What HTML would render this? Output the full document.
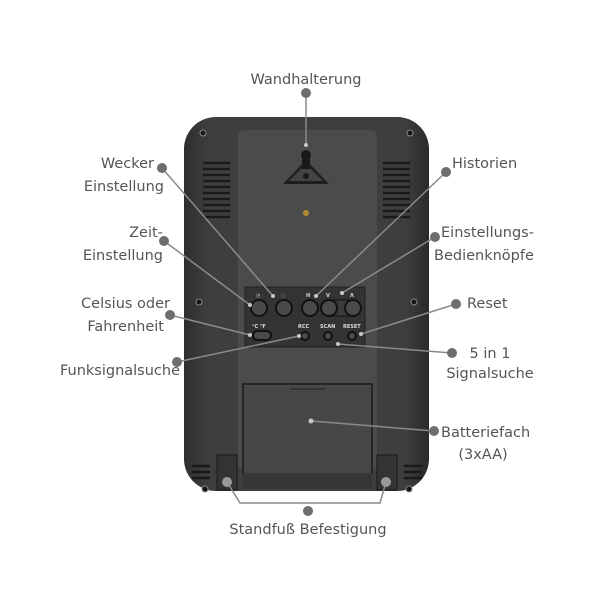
<!DOCTYPE html>
<html><head><meta charset="utf-8"><style>
html,body{margin:0;padding:0;background:#fff;width:600px;height:600px;overflow:hidden}
svg{display:block}
text{font-family:"DejaVu Sans","Liberation Sans",sans-serif;fill:#555;font-size:14.5px}
.s{font-size:5px;fill:#ddd;font-weight:bold}
</style></head><body>
<svg width="600" height="600" viewBox="0 0 600 600" xmlns="http://www.w3.org/2000/svg">
<defs>
<linearGradient id="g" x1="0" x2="1"><stop offset="0" stop-color="#2e2e2e"/><stop offset="0.1" stop-color="#3e3e3e"/><stop offset="0.9" stop-color="#3e3e3e"/><stop offset="1" stop-color="#2a2a2a"/></linearGradient>
</defs>
<rect x="184" y="117" width="245" height="374" rx="32" fill="url(#g)"/>
<rect x="238" y="130" width="139" height="340" rx="6" fill="#4b4b4b"/>
<g stroke="#1a1a1a" stroke-width="2.5">
<line x1="203" y1="163" x2="230" y2="163"/><line x1="203" y1="169" x2="230" y2="169"/><line x1="203" y1="175" x2="230" y2="175"/><line x1="203" y1="181" x2="230" y2="181"/><line x1="203" y1="187" x2="230" y2="187"/><line x1="203" y1="193" x2="230" y2="193"/><line x1="203" y1="199" x2="230" y2="199"/><line x1="203" y1="205" x2="230" y2="205"/><line x1="203" y1="211" x2="230" y2="211"/><line x1="203" y1="217" x2="230" y2="217"/>
<line x1="383" y1="163" x2="410" y2="163"/><line x1="383" y1="169" x2="410" y2="169"/><line x1="383" y1="175" x2="410" y2="175"/><line x1="383" y1="181" x2="410" y2="181"/><line x1="383" y1="187" x2="410" y2="187"/><line x1="383" y1="193" x2="410" y2="193"/><line x1="383" y1="199" x2="410" y2="199"/><line x1="383" y1="205" x2="410" y2="205"/><line x1="383" y1="211" x2="410" y2="211"/><line x1="383" y1="217" x2="410" y2="217"/>
<line x1="192" y1="466" x2="210" y2="466"/><line x1="192" y1="472" x2="210" y2="472"/><line x1="192" y1="478" x2="210" y2="478"/>
<line x1="404" y1="466" x2="422" y2="466"/><line x1="404" y1="472" x2="422" y2="472"/><line x1="404" y1="478" x2="422" y2="478"/>
</g>
<g fill="#161616" stroke="#888" stroke-width="1">
<circle cx="203" cy="133" r="3"/><circle cx="410" cy="133" r="3"/><circle cx="199" cy="302" r="3"/><circle cx="414" cy="302" r="3"/><circle cx="203" cy="489" r="0"/><circle cx="206" cy="490" r="0"/>
<circle cx="205" cy="490" r="0"/>
</g>
<g fill="#161616" stroke="#888" stroke-width="1"><circle cx="205" cy="489" r="3"/><circle cx="409" cy="489" r="3"/></g>
<path d="M283 184 L306 160 L329 184 Z" fill="#1e1e1e"/>
<path d="M289 181 L306 164 L323 181 Z" fill="#444"/>
<circle cx="306" cy="155" r="5" fill="#1a1a1a"/>
<rect x="302" y="155" width="8" height="14" fill="#1a1a1a"/>
<circle cx="306" cy="176" r="3" fill="#1a1a1a"/>
<circle cx="306" cy="213" r="3" fill="#b08a30"/>
<rect x="245" y="287" width="120" height="60" fill="#333" stroke="#222"/>
<g fill="#4a4a4a" stroke="#111" stroke-width="2">
<circle cx="259" cy="308" r="8"/><circle cx="284" cy="308" r="8"/><circle cx="310" cy="308" r="8"/>
<rect x="329" y="300" width="24" height="16" fill="#3a3a3a" stroke="#111" stroke-width="1"/>
<circle cx="329" cy="308" r="8"/><circle cx="353" cy="308" r="8"/>
<circle cx="305" cy="336" r="4"/><circle cx="328" cy="336" r="4"/><circle cx="352" cy="336" r="4"/>
<rect x="253" y="331" width="18" height="9" rx="4.5"/>
</g>
<text class="s" x="256" y="297">◷</text><text class="s" x="281" y="297">◌</text><text class="s" x="306" y="297">H</text><text class="s" x="326" y="297">V</text><text class="s" x="350" y="297">Λ</text>
<text class="s" x="252" y="328">°C °F</text><text class="s" x="298" y="328">RCC</text><text class="s" x="320" y="328">SCAN</text><text class="s" x="343" y="328">RESET</text>
<rect x="243" y="384" width="129" height="90" fill="#474747" stroke="#1a1a1a" stroke-width="1.5"/>
<line x1="290" y1="389" x2="325" y2="389" stroke="#222" stroke-width="1"/>
<rect x="243" y="473" width="129" height="16" fill="#363636"/>
<rect x="217" y="455" width="20" height="35" fill="#333" stroke="#1a1a1a"/>
<rect x="377" y="455" width="20" height="35" fill="#333" stroke="#1a1a1a"/>
<g stroke="#8a8a8a" stroke-width="1.5" fill="none">
<line x1="306" y1="93" x2="306" y2="145"/>
<line x1="162" y1="168" x2="273" y2="296"/>
<line x1="164" y1="241" x2="250" y2="305"/>
<line x1="170" y1="315" x2="250" y2="335"/>
<line x1="177" y1="362" x2="299" y2="336"/>
<line x1="446" y1="172" x2="316" y2="296"/>
<line x1="435" y1="237" x2="342" y2="293"/>
<line x1="456" y1="304" x2="361" y2="334"/>
<line x1="452" y1="353" x2="338" y2="344"/>
<line x1="434" y1="431" x2="311" y2="421"/>
<polyline points="227,482 240,503 380,503 386,482"/>
</g>
<g fill="#c8c8c8">
<circle cx="306" cy="145" r="2"/><circle cx="273" cy="296" r="2"/><circle cx="250" cy="305" r="2"/><circle cx="250" cy="335" r="2"/><circle cx="299" cy="336" r="2"/><circle cx="316" cy="296" r="2"/><circle cx="342" cy="293" r="2"/><circle cx="361" cy="334" r="2"/><circle cx="338" cy="344" r="2"/><circle cx="311" cy="421" r="2.5"/>
</g>
<g fill="#999"><circle cx="227" cy="482" r="5"/><circle cx="386" cy="482" r="5"/></g>
<g fill="#6e6e6e">
<circle cx="306" cy="93" r="5"/><circle cx="162" cy="168" r="5"/><circle cx="164" cy="241" r="5"/><circle cx="170" cy="315" r="5"/><circle cx="177" cy="362" r="5"/>
<circle cx="446" cy="172" r="5"/><circle cx="435" cy="237" r="5"/><circle cx="456" cy="304" r="5"/><circle cx="452" cy="353" r="5"/><circle cx="434" cy="431" r="5"/><circle cx="308" cy="511" r="5"/>
</g>
<text x="306" y="84" text-anchor="middle">Wandhalterung</text>
<text x="154" y="168" text-anchor="end">Wecker</text>
<text x="164" y="191" text-anchor="end">Einstellung</text>
<text x="146" y="237" text-anchor="middle">Zeit-</text>
<text x="163" y="260" text-anchor="end">Einstellung</text>
<text x="170" y="308" text-anchor="end">Celsius oder</text>
<text x="164" y="331" text-anchor="end">Fahrenheit</text>
<text x="180" y="375" text-anchor="end">Funksignalsuche</text>
<text x="452" y="168">Historien</text>
<text x="441" y="237">Einstellungs-</text>
<text x="434" y="260">Bedienknöpfe</text>
<text x="467" y="308">Reset</text>
<text x="490" y="358" text-anchor="middle">5 in 1</text>
<text x="490" y="378" text-anchor="middle">Signalsuche</text>
<text x="441" y="437">Batteriefach</text>
<text x="483" y="459" text-anchor="middle">(3xAA)</text>
<text x="308" y="534" text-anchor="middle">Standfuß Befestigung</text>
</svg>
</body></html>
